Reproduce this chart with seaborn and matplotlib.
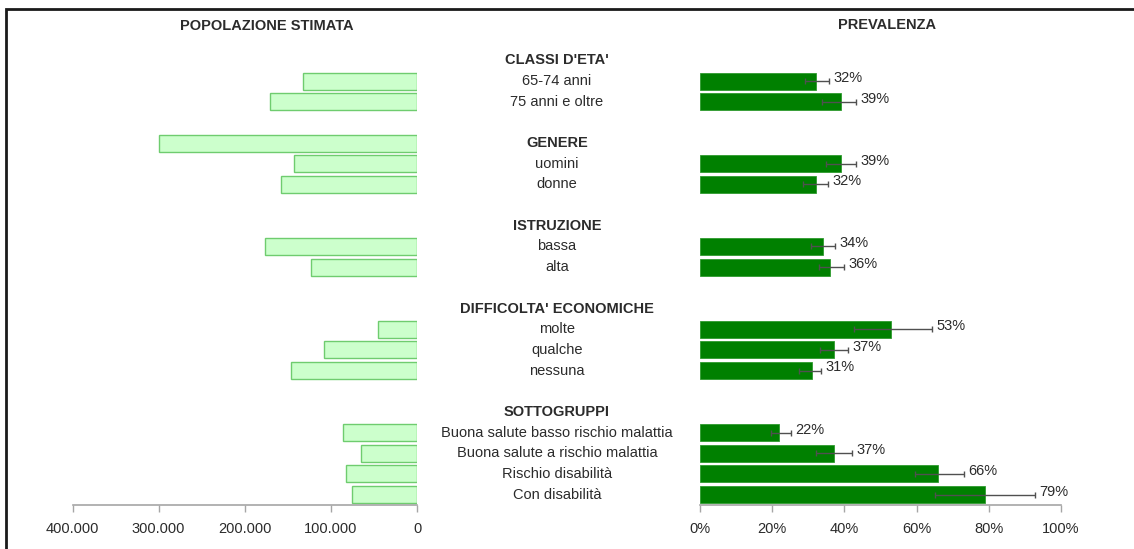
import numpy as np
import pandas as pd
import matplotlib
matplotlib.use("Agg")
import matplotlib.pyplot as plt
import matplotlib.transforms as mtransforms
from matplotlib.patches import Rectangle
from matplotlib.ticker import FuncFormatter, FixedLocator
import seaborn as sns

# ---------------- data ----------------
group_titles = ["CLASSI D'ETA'", "GENERE", "ISTRUZIONE", "DIFFICOLTA' ECONOMICHE", "SOTTOGRUPPI"]
group_items = [
    ["65-74 anni", "75 anni e oltre"],
    ["uomini", "donne"],
    ["bassa", "alta"],
    ["molte", "qualche", "nessuna"],
    ["Buona salute basso rischio malattia", "Buona salute a rischio malattia",
     "Rischio disabilità", "Con disabilità"],
]
population = [
    [132000, 171000],
    [143000, 158000],
    [176000, 123000],
    [45000, 108000, 146000],
    [86000, 65000, 83000, 75000],
]
total_population = 300000          # bar shown on the GENERE header row
prevalence = [
    [32, 39],
    [39, 32],
    [34, 36],
    [53, 37, 31],
    [22, 37, 66, 79],
]
ci_low = [
    [29.1, 33.7],
    [34.9, 28.5],
    [30.8, 33.1],
    [42.6, 33.3, 27.4],
    [19.8, 32.0, 59.5, 65.2],
]
ci_high = [
    [35.7, 43.3],
    [43.3, 35.5],
    [37.5, 39.9],
    [64.4, 40.9, 33.5],
    [25.2, 42.1, 73.1, 92.9],
]
pop_ticks = [400000, 300000, 200000, 100000, 0]
pct_ticks = [0, 20, 40, 60, 80, 100]

# ---------------- layout of rows (header, items, blank) ----------------
header_rows = []
item_rows = []
r = -1
for items in group_items:
    header_rows.append(r)
    r += 1
    rows = []
    for _ in items:
        rows.append(r)
        r += 1
    item_rows.append(rows)
    r += 1  # blank row

pop_df = pd.DataFrame({
    "row": [header_rows[1]] + [rr for g in item_rows for rr in g],
    "value": [total_population] + [v for g in population for v in g],
})
prev_df = pd.DataFrame({
    "row": [rr for g in item_rows for rr in g],
    "value": [v for g in prevalence for v in g],
    "lo": [v for g in ci_low for v in g],
    "hi": [v for g in ci_high for v in g],
    "label": [c for g in group_items for c in g],
})

# ---------------- style ----------------
sns.set_theme(style="white")
plt.rcParams["font.family"] = ["Liberation Sans", "DejaVu Sans"]
TXT = "#2b2b2b"
GREY = "#a6a6a6"
FS = 10.5

W, H = 1134, 549
fig = plt.figure(figsize=(W / 100, H / 100), dpi=100)

ax_top, ax_bot = 50, 505
axL = fig.add_axes([72.5 / W, 1 - ax_bot / H, (417 - 72.5) / W, (ax_bot - ax_top) / H])
axR = fig.add_axes([700 / W, 1 - ax_bot / H, (1061 - 700) / W, (ax_bot - ax_top) / H])

ylim = (item_rows[-1][-1] + 0.5, header_rows[0] - 0.5)

# left: population
sns.barplot(data=pop_df, x="value", y="row", orient="h", native_scale=True,
            color="#ccffcc", edgecolor="#6fcc6f", linewidth=1.0,
            saturation=1, width=0.82, errorbar=None, ax=axL)
axL.set_xlim(400000, 0)
axL.xaxis.set_major_locator(FixedLocator(pop_ticks))
axL.xaxis.set_major_formatter(FuncFormatter(lambda v, p: f"{int(v):,}".replace(",", ".")))

# right: prevalence
sns.barplot(data=prev_df, x="value", y="row", orient="h", native_scale=True,
            color="#008000", edgecolor="#2e9a2e", linewidth=0.6,
            saturation=1, width=0.82, errorbar=None, ax=axR)
axR.errorbar(prev_df["value"], prev_df["row"],
             xerr=[prev_df["value"] - prev_df["lo"], prev_df["hi"] - prev_df["value"]],
             fmt="none", ecolor="#505050", elinewidth=1.0, capsize=2.5, capthick=1.0)
for _, rw in prev_df.iterrows():
    axR.text(rw["hi"] + 1.2, rw["row"] - 0.15, f"{int(rw['value'])}%",
             ha="left", va="center", fontsize=FS, color=TXT)
axR.set_xlim(0, 100)
axR.xaxis.set_major_locator(FixedLocator(pct_ticks))
axR.xaxis.set_major_formatter(FuncFormatter(lambda v, p: f"{int(v)}%"))

for ax in (axL, axR):
    ax.set_ylim(*ylim)
    ax.set_ylabel("")
    ax.set_xlabel("")
    ax.set_yticks([])
    for s in ("left", "right", "top"):
        ax.spines[s].set_visible(False)
    ax.spines["bottom"].set_color(GREY)
    ax.spines["bottom"].set_linewidth(1.2)
    ax.tick_params(axis="x", direction="out", length=5, width=1.0, color=GREY,
                   labelsize=FS, labelcolor=TXT, pad=7, bottom=True)
    ax.grid(False)
    ax.set_facecolor("none")

# center labels
trans = mtransforms.blended_transform_factory(fig.transFigure, axL.transData)
cx = 557 / W
for title, hr, items, rows in zip(group_titles, header_rows, group_items, item_rows):
    fig.text(cx, hr, title, transform=trans, ha="center", va="center",
             fontsize=FS, fontweight="bold", color=TXT)
    for it, rr in zip(items, rows):
        fig.text(cx, rr, it, transform=trans, ha="center", va="center",
                 fontsize=FS, color=TXT)

# panel titles
fig.text(267 / W, 1 - 26 / H, "POPOLAZIONE STIMATA", ha="center", va="center",
         fontsize=FS, fontweight="bold", color=TXT)
fig.text(887 / W, 1 - 25 / H, "PREVALENZA", ha="center", va="center",
         fontsize=FS, fontweight="bold", color=TXT)

# frame (cut off at right and bottom)
fig.patches.append(Rectangle((6 / W, -0.05), 1.2, 1.05 - 9 / H,
                             transform=fig.transFigure, fill=False,
                             edgecolor="#1a1a1a", linewidth=2.0))

fig.savefig("out.png", dpi=100)
